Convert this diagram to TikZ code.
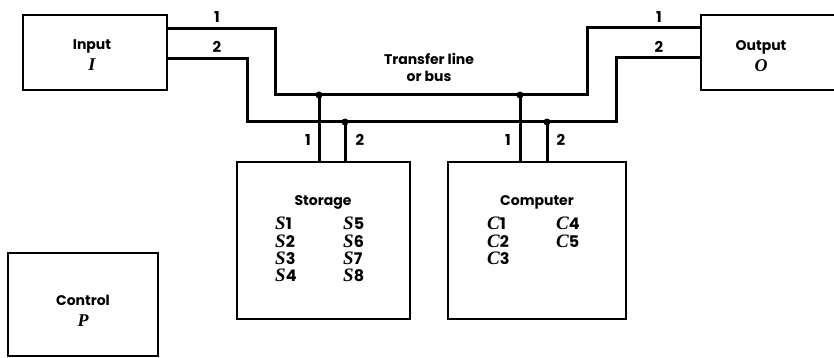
\documentclass[tikz,border=0pt]{standalone}
\usepackage{fontspec}
\newfontfamily\lblfont{Poppins}
\newfontfamily\regfont{Liberation Serif}
\def\yBusA{95}
\def\yBusB{122}
\tikzset{
  unitbox/.style={draw, line width=2pt, inner sep=0pt},
  busline/.style={line width=3pt},
  tapdot/.style={circle, fill, inner sep=0pt, minimum size=7pt},
  boxlbl/.style={font=\lblfont\bfseries\fontsize{14}{21}\selectfont, align=center, inner sep=0pt},
  wirelbl/.style={font=\lblfont\bfseries\fontsize{15}{15}\selectfont, inner sep=1pt},
  regcol/.style={font=\fontsize{19}{17.3}\selectfont, anchor=north west, align=left, inner sep=0pt},
}
\newcommand{\ital}[1]{{\regfont\bfseries\itshape #1}}
\newcommand{\reg}[2]{\ital{#1}{\lblfont\bfseries\fontsize{16}{17.3}\selectfont #2}}

\begin{document}
\begin{tikzpicture}[x=1pt,y=-1pt]
  \useasboundingbox (0,0) rectangle (834,358);

  % units
  \node[unitbox, minimum width=144pt, minimum height=75pt] (inp) at (95,52.5) {};
  \node[unitbox, minimum width=140pt, minimum height=75pt] (out) at (771,52.5) {};
  \node[unitbox, minimum width=150pt, minimum height=103pt] (ctl) at (83,304.5) {};
  \node[unitbox, minimum width=173pt, minimum height=157pt] (sto) at (323.5,240.5) {};
  \node[unitbox, minimum width=178pt, minimum height=157pt] (cpu) at (537,240.5) {};

  \node[boxlbl] (inpT) at (92,55) {Input\\\ital{\fontsize{18}{18}\selectfont I}};
  \node[boxlbl] (outT) at (761,56) {Output\\\ital{\fontsize{18}{18}\selectfont O}};
  \node[boxlbl] (ctlT) at (83,311) {Control\\\ital{\fontsize{18}{18}\selectfont P}};
  \node[boxlbl, font=\lblfont\bfseries\fontsize{14}{17}\selectfont] (busT) at (429,67) {Transfer line\\or bus};
  \node[boxlbl] (stoT) at (323,202) {Storage};
  \node[boxlbl] (cpuT) at (537,202) {Computer};

  \node[regcol] (stoA) at (275,217) {\reg{S}{1}\\\reg{S}{2}\\\reg{S}{3}\\\reg{S}{4}};
  \node[regcol] (stoB) at (343,217) {\reg{S}{5}\\\reg{S}{6}\\\reg{S}{7}\\\reg{S}{8}};
  \node[regcol] (cpuA) at (487,217) {\reg{C}{1}\\\reg{C}{2}\\\reg{C}{3}};
  \node[regcol] (cpuB) at (556,217) {\reg{C}{4}\\\reg{C}{5}};

  % transfer line
  \coordinate (a0) at (inp.east |- 0,29);
  \coordinate (a1) at (275,29);
  \coordinate (a2) at (275,\yBusA);
  \coordinate (a3) at (587,\yBusA);
  \coordinate (a4) at (587,28);
  \coordinate (a5) at (out.west |- 0,28);
  \coordinate (b0) at (inp.east |- 0,59);
  \coordinate (b1) at (247,59);
  \coordinate (b2) at (247,\yBusB);
  \coordinate (b3) at (616,\yBusB);
  \coordinate (b4) at (616,58);
  \coordinate (b5) at (out.west |- 0,58);
  \draw[busline] (a0) -- (a1) -- (a2) -- (a3) -- (a4) -- (a5);
  \draw[busline] (b0) -- (b1) -- (b2) -- (b3) -- (b4) -- (b5);

  \node[wirelbl, anchor=base] (inA) at (217,23) {1};
  \node[wirelbl, anchor=base] (inB) at (217,53) {2};
  \node[wirelbl, anchor=base] (outA) at (659,23) {1};
  \node[wirelbl, anchor=base] (outB) at (659,53) {2};

  % taps
  \coordinate (s1) at (319,\yBusA);
  \coordinate (s2) at (345,\yBusB);
  \coordinate (c1) at (520,\yBusA);
  \coordinate (c2) at (547,\yBusB);
  \foreach \t in {s1,s2,c1,c2}
    \node[tapdot] (\t d) at (\t) {};
  \draw[busline] (s1d.center) -- (s1d |- sto.north);
  \draw[busline] (s2d.center) -- (s2d |- sto.north);
  \draw[busline] (c1d.center) -- (c1d |- cpu.north);
  \draw[busline] (c2d.center) -- (c2d |- cpu.north);
  \node[wirelbl, anchor=base] (s1n) at (308,146) {1};
  \node[wirelbl, anchor=base] (s2n) at (360,146) {2};
  \node[wirelbl, anchor=base] (c1n) at (508,146) {1};
  \node[wirelbl, anchor=base] (c2n) at (561,146) {2};
\end{tikzpicture}
\end{document}
